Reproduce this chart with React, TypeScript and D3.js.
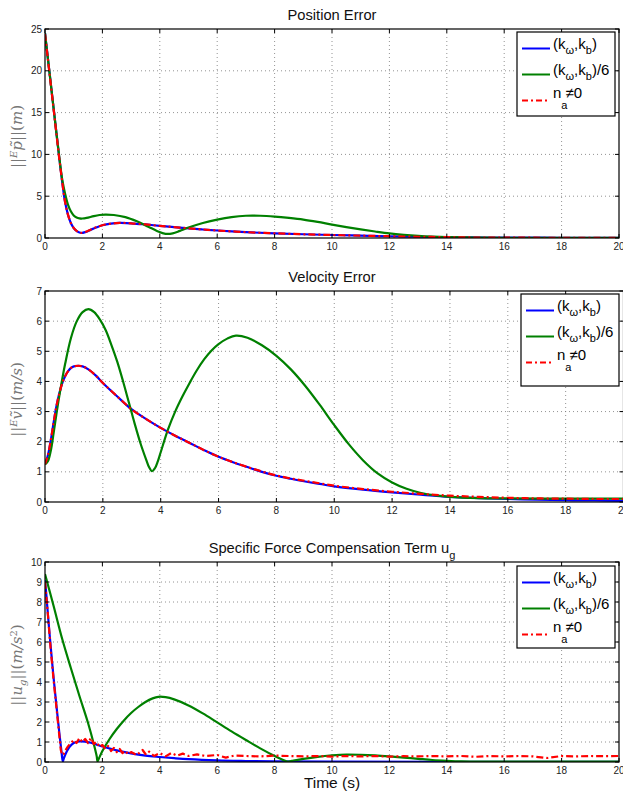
import * as d3 from "d3";

type Pt = [number, number];

// shared time axis (s)
const xTicks = [0, 2, 4, 6, 8, 10, 12, 14, 16, 18, 20];

// ---- Position Error ----
const posTicks = [0, 5, 10, 15, 20, 25];
const posBlue: Pt[] = [
  [0, 24.5], [0.1, 21.5], [0.2, 18.5], [0.3, 15.5], [0.4, 12.5], [0.5, 9.5], [0.6, 6.7],
  [0.7, 4.3], [0.8, 2.8], [0.9, 1.8], [1.0, 1.2], [1.1, 0.85], [1.2, 0.65], [1.27, 0.6],
  [1.4, 0.7], [1.6, 1.0], [1.8, 1.28], [2.0, 1.52], [2.3, 1.72], [2.6, 1.8], [3.0, 1.76],
  [3.5, 1.62], [4.0, 1.45], [4.5, 1.3], [5, 1.15], [5.5, 1.02], [6, 0.9], [7, 0.7],
  [8, 0.56], [9, 0.45], [10, 0.36], [11, 0.28], [12, 0.21], [13, 0.15], [14, 0.1],
  [15, 0.07], [16, 0.05], [18, 0.03], [20, 0.02],
];
const posGreen: Pt[] = [
  [0, 24.5], [0.1, 21.5], [0.2, 18.5], [0.3, 15.5], [0.4, 12.5], [0.5, 9.6], [0.6, 7.0],
  [0.7, 5.3], [0.8, 4.0], [0.9, 3.2], [1.0, 2.7], [1.1, 2.45], [1.2, 2.35], [1.3, 2.33],
  [1.45, 2.4], [1.7, 2.62], [1.9, 2.75], [2.1, 2.8], [2.4, 2.75], [2.8, 2.5], [3.2, 2.0],
  [3.6, 1.35], [3.9, 0.85], [4.2, 0.5], [4.45, 0.55], [4.7, 0.85], [5.0, 1.25], [5.5, 1.8],
  [6.0, 2.2], [6.5, 2.5], [7.0, 2.66], [7.5, 2.66], [8.0, 2.56], [8.5, 2.4], [9.0, 2.2],
  [9.5, 1.92], [10, 1.6], [10.5, 1.3], [11, 1.03], [11.5, 0.78], [12, 0.55], [12.5, 0.38],
  [13, 0.25], [13.5, 0.16], [14, 0.1], [15, 0.05], [16, 0.03], [20, 0.02],
];
const posRed: Pt[] = [
  [0, 24.4], [0.1, 21.4], [0.2, 18.4], [0.3, 15.4], [0.4, 12.4], [0.5, 9.4], [0.6, 6.7],
  [0.7, 4.3], [0.8, 2.8], [0.9, 1.8], [1.0, 1.2], [1.1, 0.86], [1.2, 0.66], [1.27, 0.62],
  [1.4, 0.72], [1.6, 1.02], [1.8, 1.3], [2.0, 1.53], [2.3, 1.72], [2.6, 1.8], [3.0, 1.76],
  [3.5, 1.62], [4.0, 1.45], [4.5, 1.3], [5, 1.15], [5.5, 1.02], [6, 0.9], [7, 0.7],
  [8, 0.56], [9, 0.45], [10, 0.36], [11, 0.28], [12, 0.21], [13, 0.15], [14, 0.1],
  [15, 0.06], [16, 0.04], [18, 0.03], [20, 0.02],
];

// ---- Velocity Error ----
const velTicks = [0, 1, 2, 3, 4, 5, 6, 7];
const velBlue: Pt[] = [
  [0, 1.25], [0.1, 1.55], [0.2, 2.05], [0.3, 2.65], [0.4, 3.2], [0.5, 3.62], [0.6, 3.95],
  [0.7, 4.18], [0.8, 4.34], [0.9, 4.45], [1.0, 4.5], [1.15, 4.52], [1.3, 4.5], [1.5, 4.4],
  [1.75, 4.2], [2.0, 3.95], [2.5, 3.5], [3.0, 3.07], [3.5, 2.75], [4.0, 2.46], [4.5, 2.2],
  [5, 1.96], [5.5, 1.72], [6, 1.5], [6.5, 1.32], [7, 1.16], [7.5, 1.0], [8, 0.87],
  [8.5, 0.77], [9, 0.68], [9.5, 0.6], [10, 0.52], [11, 0.41], [12, 0.32], [13, 0.24],
  [14, 0.17], [15, 0.13], [16, 0.1], [17, 0.08], [18, 0.06], [19, 0.05], [20, 0.04],
];
const velGreen: Pt[] = [
  [0, 1.25], [0.1, 1.35], [0.2, 1.7], [0.3, 2.3], [0.4, 2.95], [0.5, 3.55], [0.7, 4.6],
  [0.9, 5.45], [1.1, 6.0], [1.3, 6.3], [1.5, 6.4], [1.7, 6.3], [1.9, 6.05], [2.1, 5.7],
  [2.3, 5.2], [2.5, 4.65], [2.7, 4.0], [2.9, 3.3], [3.1, 2.6], [3.3, 1.95], [3.5, 1.4],
  [3.6, 1.15], [3.7, 1.02], [3.8, 1.12], [3.9, 1.35], [4.0, 1.65], [4.25, 2.4], [4.5, 3.0],
  [4.75, 3.5], [5.0, 3.95], [5.25, 4.37], [5.5, 4.73], [5.75, 5.02], [6.0, 5.24], [6.3, 5.42],
  [6.6, 5.52], [7.0, 5.45], [7.5, 5.2], [8.0, 4.85], [8.5, 4.4], [9, 3.85], [9.5, 3.22],
  [10, 2.55], [10.5, 1.92], [11, 1.38], [11.5, 0.95], [12, 0.65], [12.5, 0.44], [13, 0.3],
  [13.5, 0.22], [14, 0.17], [15, 0.13], [16, 0.12], [18, 0.11], [20, 0.11],
];
const velRed: Pt[] = [
  [0, 1.25], [0.1, 1.55], [0.2, 2.05], [0.3, 2.65], [0.4, 3.2], [0.5, 3.62], [0.6, 3.95],
  [0.7, 4.18], [0.8, 4.34], [0.9, 4.45], [1.0, 4.5], [1.15, 4.52], [1.3, 4.5], [1.5, 4.4],
  [1.75, 4.2], [2.0, 3.95], [2.5, 3.5], [3.0, 3.07], [3.5, 2.75], [4.0, 2.46], [4.5, 2.2],
  [5, 1.96], [5.5, 1.72], [6, 1.5], [6.5, 1.32], [7, 1.16], [7.5, 1.01], [8, 0.88],
  [8.5, 0.78], [9, 0.7], [9.5, 0.62], [10, 0.54], [11, 0.43], [12, 0.34], [13, 0.27],
  [14, 0.21], [15, 0.17], [16, 0.14], [17, 0.12], [18, 0.11], [19, 0.1], [20, 0.1],
];

// ---- Specific Force Compensation Term ----
const ugTicks = [0, 1, 2, 3, 4, 5, 6, 7, 8, 9, 10];
const ugBlue: Pt[] = [
  [0, 9.1], [0.05, 8.3], [0.1, 7.4], [0.15, 6.55], [0.2, 5.75], [0.3, 4.2], [0.4, 2.8],
  [0.5, 1.45], [0.58, 0.45], [0.62, 0.03], [0.66, 0.2], [0.75, 0.5], [0.85, 0.75],
  [1.0, 0.95], [1.2, 1.03], [1.4, 1.02], [1.6, 0.96], [1.8, 0.87], [2.0, 0.78], [2.5, 0.58],
  [3.0, 0.43], [3.5, 0.32], [4.0, 0.25], [4.5, 0.19], [5, 0.14], [6, 0.08], [7, 0.05],
  [8, 0.03], [10, 0.02], [14, 0.01], [20, 0.01],
];
const ugGreen: Pt[] = [
  [0, 9.4], [0.3, 7.8], [0.6, 6.15], [0.9, 4.7], [1.2, 3.3], [1.5, 1.95], [1.7, 0.9],
  [1.8, 0.3], [1.83, 0.03], [1.87, 0.15], [2.0, 0.55], [2.25, 1.15], [2.5, 1.65],
  [2.75, 2.08], [3.0, 2.45], [3.25, 2.75], [3.5, 3.0], [3.75, 3.18], [3.95, 3.26], [4.2, 3.24],
  [4.5, 3.13], [5.0, 2.83], [5.5, 2.43], [6.0, 1.98], [6.5, 1.53], [7.0, 1.1], [7.5, 0.68],
  [8.0, 0.3], [8.3, 0.1], [8.45, 0.02], [8.6, 0.06], [9, 0.16], [9.5, 0.26],
  [10, 0.33], [10.5, 0.37], [11, 0.36], [11.5, 0.33], [12, 0.28], [12.5, 0.22], [13, 0.16],
  [13.5, 0.1], [14, 0.06], [14.5, 0.03], [15, 0.02], [20, 0.02],
];
const ugRed: Pt[] = [
  [0, 9.0], [0.1, 7.4], [0.2, 5.6], [0.3, 4.1], [0.4, 2.7], [0.5, 1.3], [0.55, 0.6],
  [0.6, 0.35], [0.65, 0.4], [0.7, 0.55], [0.8, 0.78], [0.9, 0.95], [1.0, 1.1], [1.1, 0.95],
  [1.2, 1.2], [1.3, 1.0], [1.4, 1.15], [1.5, 0.95], [1.6, 1.2], [1.7, 0.9], [1.8, 1.0],
  [1.9, 0.75], [2.0, 0.85], [2.1, 0.65], [2.2, 0.8], [2.3, 0.55], [2.4, 0.7], [2.5, 0.5],
  [2.6, 0.65], [2.7, 0.45], [2.8, 0.55], [2.9, 0.38], [3.0, 0.5], [3.2, 0.35], [3.4, 0.6],
  [3.5, 0.4], [3.6, 0.55], [3.8, 0.3], [4.0, 0.45], [4.2, 0.28], [4.4, 0.45], [4.6, 0.32],
  [4.8, 0.42], [5.0, 0.3], [5.3, 0.38], [5.6, 0.3], [6.0, 0.35], [6.3, 0.22], [6.6, 0.32],
  [7, 0.3], [7.5, 0.28], [8, 0.32], [8.5, 0.3], [9, 0.28], [9.5, 0.3], [10, 0.27],
  [10.5, 0.3], [11, 0.28], [11.5, 0.3], [12, 0.27], [12.5, 0.29], [13, 0.28], [13.5, 0.3],
  [14, 0.28], [14.5, 0.3], [15, 0.26], [15.5, 0.3], [16, 0.28], [16.5, 0.3], [17, 0.28],
  [17.5, 0.2], [18, 0.3], [18.5, 0.28], [19, 0.3], [19.5, 0.29], [20, 0.3],
];

const BLUE = "#0000ff";
const GREEN = "#008000";
const RED = "#ff0000";
const SANS = "'Liberation Sans', Arial, Helvetica, sans-serif";
const SERIF = "'DejaVu Serif', 'Liberation Serif', serif";

type Box = { x: number; y: number; w: number; h: number };

type PanelProps = {
  id: string;
  left: number;
  right: number;
  top: number;
  bottom: number;
  yMax: number;
  yTicks: number[];
  blue: Pt[];
  green: Pt[];
  red: Pt[];
  redSmooth: boolean;
  legend: Box;
  title: React.ReactNode;
  ylabel: React.ReactNode;
};

function Legend({ x, y, w, h }: Box) {
  const rows = [16.5, 42.5, 68.5];
  const lx0 = x + 5;
  const lx1 = x + 33;
  const tx = x + 36;
  return (
    <g fontFamily={SANS} fill="#000">
      <rect x={x} y={y} width={w} height={h} fill="#fff" stroke="#000" strokeWidth={1.2} />
      <line x1={lx0} x2={lx1} y1={y + rows[0]} y2={y + rows[0]} stroke={BLUE} strokeWidth={2} />
      <line x1={lx0} x2={lx1} y1={y + rows[1]} y2={y + rows[1]} stroke={GREEN} strokeWidth={2} />
      <line x1={lx0} x2={lx1} y1={y + rows[2]} y2={y + rows[2]} stroke={RED} strokeWidth={2} strokeDasharray="6,3,2,3" />
      <text x={tx} y={y + rows[0] + 0.5} fontSize={15}>
        (k<tspan dy={5} fontSize={11}>ω</tspan>
        <tspan dy={-5}>,k</tspan>
        <tspan dy={5} fontSize={11}>b</tspan>
        <tspan dy={-5}>)</tspan>
      </text>
      <text x={tx} y={y + rows[1] + 0.5} fontSize={15}>
        (k<tspan dy={5} fontSize={11}>ω</tspan>
        <tspan dy={-5}>,k</tspan>
        <tspan dy={5} fontSize={11}>b</tspan>
        <tspan dy={-5}>)/6</tspan>
      </text>
      <text x={tx} y={y + rows[2] - 2.5} fontSize={15}>
        n<tspan dy={11} fontSize={11}>a</tspan>
        <tspan dy={-11} dx={-2}>≠0</tspan>
      </text>
    </g>
  );
}

function Panel(p: PanelProps) {
  const x = d3.scaleLinear().domain([0, 20]).range([p.left, p.right]);
  const y = d3.scaleLinear().domain([0, p.yMax]).range([p.bottom, p.top]);
  const smooth = d3
    .line<Pt>()
    .x((d) => x(d[0]))
    .y((d) => y(d[1]))
    .curve(d3.curveCatmullRom.alpha(0.5));
  const straight = d3
    .line<Pt>()
    .x((d) => x(d[0]))
    .y((d) => y(d[1]));
  const cx = (p.left + Math.min(p.right, 619)) / 2;
  const cy = (p.top + p.bottom) / 2;

  return (
    <g>
      <defs>
        <clipPath id={`clip-${p.id}`}>
          <rect x={p.left} y={p.top - 2} width={p.right - p.left} height={p.bottom - p.top + 2} />
        </clipPath>
      </defs>
      <rect x={p.left} y={p.top} width={p.right - p.left} height={p.bottom - p.top} fill="#fff" />
      {/* grid */}
      <g stroke="#777" strokeWidth={0.8} strokeDasharray="1,3">
        {xTicks.slice(1, -1).map((t) => (
          <line key={`gx${t}`} x1={x(t)} x2={x(t)} y1={p.top} y2={p.bottom} />
        ))}
        {p.yTicks.slice(1, -1).map((t) => (
          <line key={`gy${t}`} x1={p.left} x2={p.right} y1={y(t)} y2={y(t)} />
        ))}
      </g>
      {/* series */}
      <g clipPath={`url(#clip-${p.id})`} fill="none" strokeLinejoin="round">
        <path d={smooth(p.blue) ?? ""} stroke={BLUE} strokeWidth={2.2} />
        <path d={smooth(p.green) ?? ""} stroke={GREEN} strokeWidth={2.2} />
        <path
          d={(p.redSmooth ? smooth(p.red) : straight(p.red)) ?? ""}
          stroke={RED}
          strokeWidth={2.2}
          strokeDasharray="7,3,2,3"
        />
      </g>
      {/* box + ticks */}
      <rect x={p.left} y={p.top} width={p.right - p.left} height={p.bottom - p.top} fill="none" stroke="#000" strokeWidth={1.2} />
      <g stroke="#000" strokeWidth={1}>
        {xTicks.map((t) => (
          <g key={`tx${t}`}>
            <line x1={x(t)} x2={x(t)} y1={p.bottom} y2={p.bottom - 4} />
            <line x1={x(t)} x2={x(t)} y1={p.top} y2={p.top + 4} />
          </g>
        ))}
        {p.yTicks.map((t) => (
          <g key={`ty${t}`}>
            <line x1={p.left} x2={p.left + 4} y1={y(t)} y2={y(t)} />
            <line x1={p.right} x2={p.right - 4} y1={y(t)} y2={y(t)} />
          </g>
        ))}
      </g>
      <g fontFamily={SANS} fontSize={10} fill="#222">
        {xTicks.map((t) => (
          <text key={`lx${t}`} x={x(t)} y={p.bottom + 11.5} textAnchor="middle">
            {t}
          </text>
        ))}
        {p.yTicks.map((t) => (
          <text key={`ly${t}`} x={p.left - 3} y={y(t) + 3.5} textAnchor="end">
            {t}
          </text>
        ))}
      </g>
      <Legend {...p.legend} />
      <text x={cx} y={p.top - 9} textAnchor="middle" fontFamily={SANS} fontSize={14.7} fill="#111">
        {p.title}
      </text>
      <text
        transform={`translate(22,${cy + 3}) rotate(-90)`}
        textAnchor="middle"
        fontFamily={SERIF}
        fontSize={15}
        fill="#777"
      >
        {p.ylabel}
      </text>
    </g>
  );
}

export default function App() {
  return (
    <svg
      width={623}
      height={796}
      viewBox="0 0 623 796"
      style={{ position: "absolute", left: 0, top: 0, background: "#fff" }}
    >
      <rect width={623} height={796} fill="#fff" />
      <Panel
        id="pos"
        left={45}
        right={619}
        top={29}
        bottom={238}
        yMax={25}
        yTicks={posTicks}
        blue={posBlue}
        green={posGreen}
        red={posRed}
        redSmooth={true}
        legend={{ x: 517, y: 32, w: 98, h: 84 }}
        title="Position Error"
        ylabel={
          <>
            ||<tspan dy={-5} fontSize={10} fontStyle="italic">E</tspan>
            <tspan dy={5} fontStyle="italic">p̃</tspan>||(<tspan fontStyle="italic">m</tspan>)
          </>
        }
      />
      <Panel
        id="vel"
        left={45}
        right={623.5}
        top={291}
        bottom={502}
        yMax={7}
        yTicks={velTicks}
        blue={velBlue}
        green={velGreen}
        red={velRed}
        redSmooth={true}
        legend={{ x: 521, y: 294, w: 98, h: 92 }}
        title="Velocity Error"
        ylabel={
          <>
            ||<tspan dy={-5} fontSize={10} fontStyle="italic">E</tspan>
            <tspan dy={5} fontStyle="italic">ṽ</tspan>||(<tspan fontStyle="italic">m/s</tspan>)
          </>
        }
      />
      <Panel
        id="ug"
        left={45}
        right={619}
        top={562}
        bottom={762}
        yMax={10}
        yTicks={ugTicks}
        blue={ugBlue}
        green={ugGreen}
        red={ugRed}
        redSmooth={false}
        legend={{ x: 517, y: 566, w: 98, h: 82 }}
        title={
          <>
            Specific Force Compensation Term u<tspan dy={6} fontSize={11}>g</tspan>
          </>
        }
        ylabel={
          <>
            ||<tspan fontStyle="italic">u</tspan>
            <tspan dy={4} fontSize={10} fontStyle="italic">g</tspan>
            <tspan dy={-4}>||(</tspan>
            <tspan fontStyle="italic">m/s</tspan>
            <tspan dy={-5} fontSize={10}>2</tspan>
            <tspan dy={5}>)</tspan>
          </>
        }
      />
      <text x={332} y={788} textAnchor="middle" fontFamily={SANS} fontSize={15.5} fill="#111">
        Time (s)
      </text>
    </svg>
  );
}
